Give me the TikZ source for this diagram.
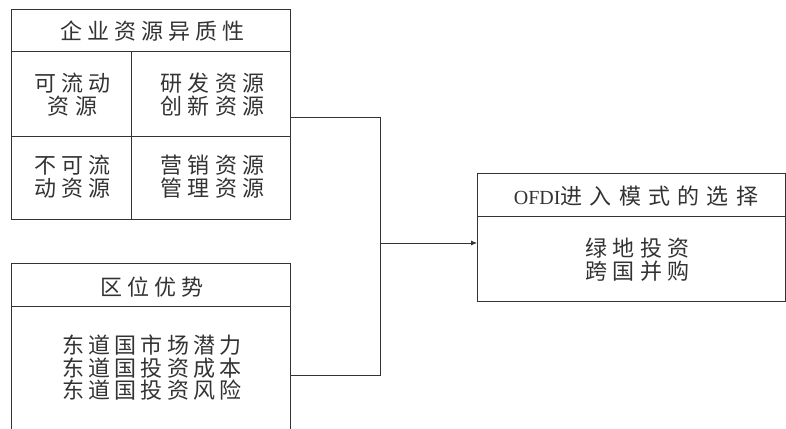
\documentclass[tikz,border=0pt]{standalone}
\usepackage{fontspec}
\setmainfont{Liberation Serif}
\newfontfamily\cjk{Noto Sans CJK SC}[LetterSpace=23]
\newfontfamily\cjkn{Noto Sans CJK SC}[LetterSpace=19]
\newfontfamily\cjkw{Noto Sans CJK SC}[LetterSpace=33]
\usetikzlibrary{arrows.meta}
\begin{document}
\begin{tikzpicture}[x=1pt,y=-1pt,
  line width=0.8pt,
  color=black!80,
  box/.style={draw=black!80,inner sep=0pt,outer sep=0pt,minimum width=279pt},
  txt/.style={text=black!80,font=\fontsize{22pt}{23pt}\selectfont\cjk,align=center,inner sep=0pt},
  conn/.style={draw=black!80,line width=0.8pt}]
\useasboundingbox (0,0) rectangle (786,428);
\clip (0,0) rectangle (786,428);
% boxes
\node[box,minimum height=210pt] (res) at (150.5,114) {};
\node[box,minimum height=224pt] (loc) at (150.5,375) {};
\node[box,minimum width=308pt,minimum height=128pt] (mode) at (631,237) {};
% dividers
\draw (res.west |- 0,51) -- (res.east |- 0,51);
\draw (res.west |- 0,136) -- (res.east |- 0,136);
\draw (131,51) -- (res.south -| 131,0);
\draw (loc.west |- 0,306) -- (loc.east |- 0,306);
\draw (mode.west |- 0,216) -- (mode.east |- 0,216);
% texts
\node[txt] (h1) at (152.5,31) {企业资源异质性};
\node[txt] (c11) at (72.5,95) {可流动\\资源};
\node[txt] (c12) at (212.5,95) {研发资源\\创新资源};
\node[txt] (c21) at (72.5,177) {不可流\\动资源};
\node[txt] (c22) at (212.5,177) {营销资源\\管理资源};
\node[txt] (h2) at (152,287) {区位优势};
\node[txt,font=\fontsize{22pt}{22.5pt}\selectfont\cjkn] (lt) at (152,368) {东道国市场潜力\\东道国投资成本\\东道国投资风险};
\node[txt,font=\fontsize{20pt}{23pt}\selectfont] (h3) at (636,196) {OFDI{\fontsize{22pt}{23pt}\selectfont\cjkw 进入模式的选择}};
\node[txt] (mt) at (637.5,260) {绿地投资\\跨国并购};
% connectors
\coordinate (j) at (380,243);
\draw[conn] ([yshift=-3pt]res.east) -| (j);
\draw[conn] (loc.east) -| (j);
\draw[conn,-{Latex[length=6pt,width=5pt]}] (j) -- (mode.west |- j);
\end{tikzpicture}
\end{document}
